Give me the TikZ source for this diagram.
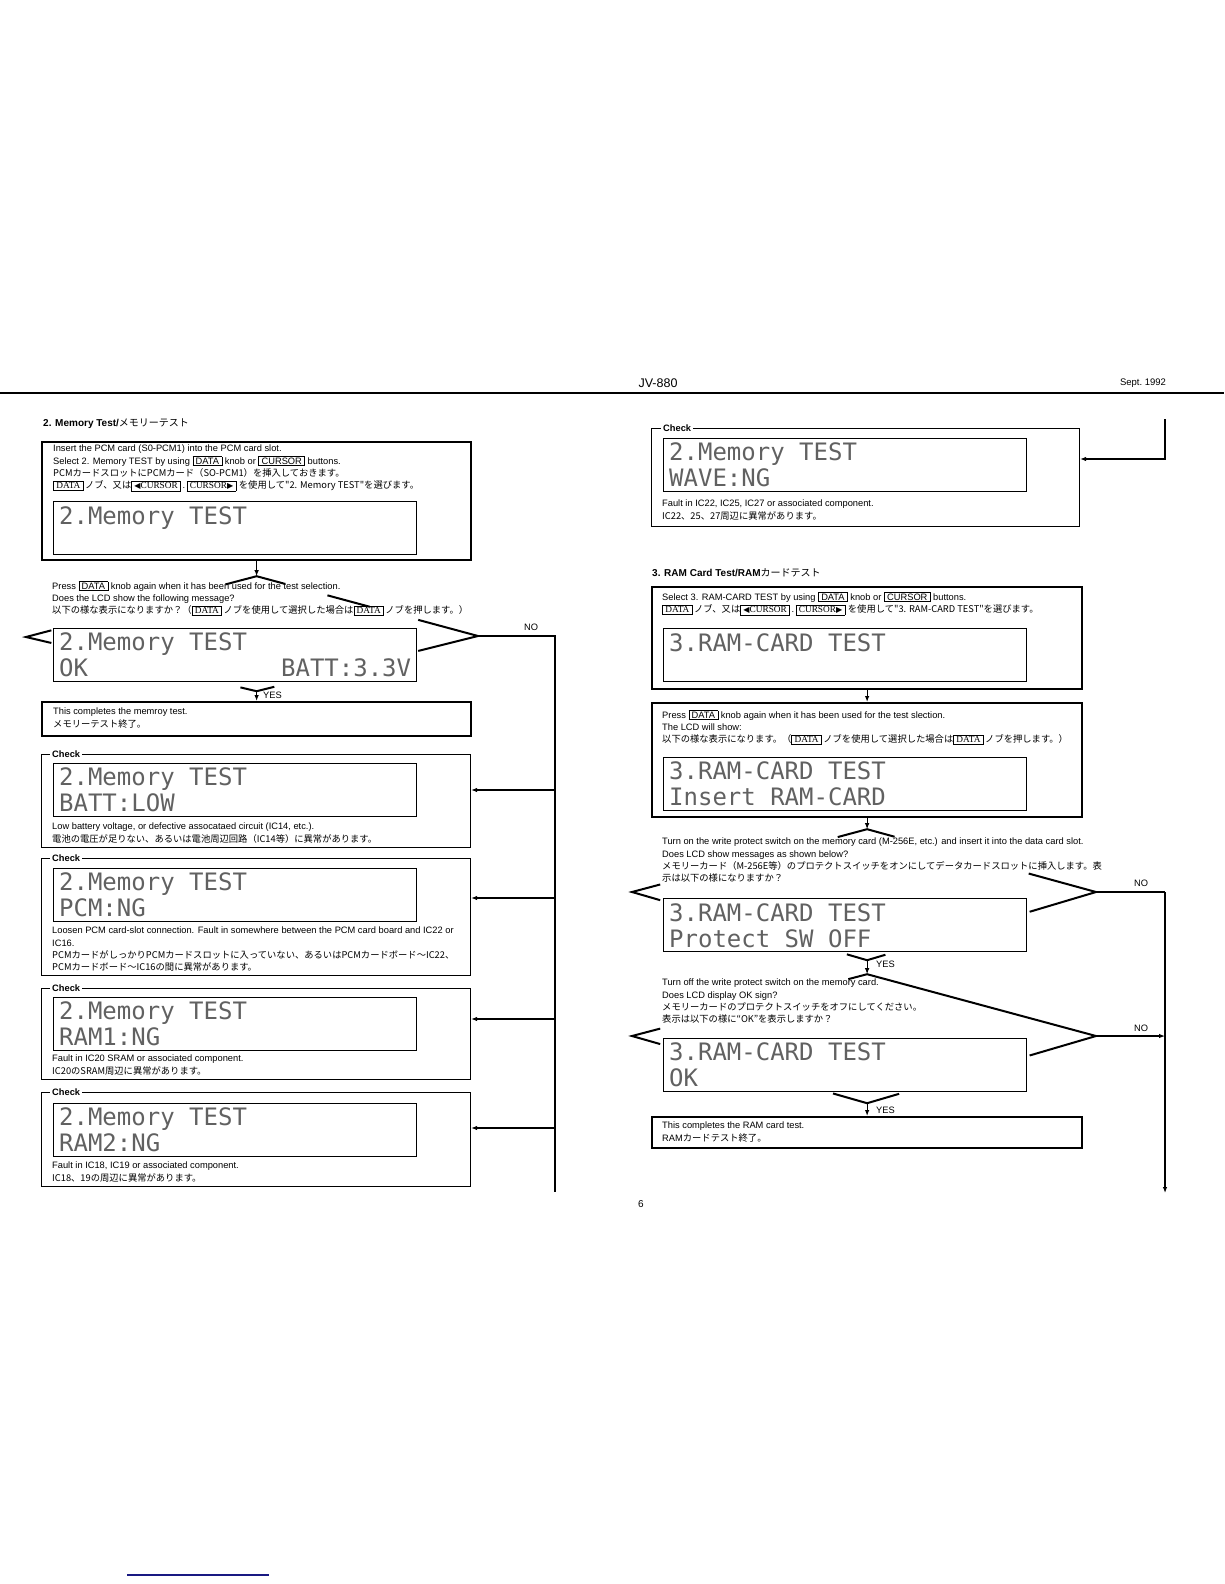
\documentclass[tikz,border=0pt]{standalone}
\usepackage{fontspec}
\setmainfont{Liberation Sans}
\newfontfamily\jpfont{Noto Sans CJK JP}
\newfontfamily\lcdfont{DejaVu Sans Mono}
\newfontfamily\symfont{DejaVu Sans}
\newfontfamily\serfont{Liberation Serif}
\usetikzlibrary{arrows.meta,calc}
\definecolor{linkblue}{RGB}{25,25,130}
\setlength{\fboxsep}{1pt}
\setlength{\fboxrule}{0.6pt}
\newcommand{\keyb}[1]{\fbox{\,#1\,}}
\newcommand{\keyj}[1]{\fbox{\serfont\,#1\,}}
\newcommand{\ltri}{{\symfont\fontsize{8}{8}\selectfont ◀}}
\newcommand{\rtri}{{\symfont\fontsize{8}{8}\selectfont ▶}}
\newcommand{\lsp}{\hspace*{0.602em}}
\tikzset{
  boxthick/.style={draw, line width=2.2pt, anchor=north west, inner sep=0pt},
  chkframe/.style={draw, line width=1.1pt, anchor=north west, inner sep=0pt},
  lcd/.style={draw, line width=1.3pt, anchor=north west, minimum width=363pt,
    minimum height=53pt, text width=352pt, inner xsep=5.5pt, inner ysep=0pt,
    align=left, font=\lcdfont\fontsize{24}{26}\selectfont, text=black!62},
  txt/.style={anchor=north west, inner sep=0pt, align=left, font=\fontsize{9.3}{12.3}\selectfont},
  chklabel/.style={anchor=west, fill=white, inner xsep=2pt, inner ysep=1pt,
    font=\bfseries\fontsize{9.3}{10}\selectfont},
  lbl/.style={anchor=west, inner sep=0pt, font=\fontsize{9.3}{10}\selectfont},
  dia/.style={line width=2pt},
  conn/.style={line width=1.1pt},
  arr/.style={conn, -{Latex[length=6pt,width=4.5pt]}}
}
\begin{document}
\begin{tikzpicture}[x=1pt,y=-1pt]
 \useasboundingbox (0,0) rectangle (1224,1584);
 % page head
 \draw[line width=1.4pt] (0,393) -- (1224,393);
 \node[font=\fontsize{12.5}{14}\selectfont] (model) at (658,383) {JV-880};
 \node[font=\fontsize{9.5}{11}\selectfont] (date) at (1143,383) {Sept.\ 1992};

 % ---- 2. memory test
 \node[anchor=west, inner sep=0pt, font=\bfseries\fontsize{10}{11}\selectfont] (titleA) at (43,424)
   {2. Memory Test/{\jpfont\mdseries メモリーテスト}};
 \node[boxthick, minimum width=429pt, minimum height=118pt] (selA) at (41,441) {};
 \node[txt] (selAtxt) at (53,445) {Insert the PCM card (S0-PCM1) into the PCM card slot.\\
   Select 2. Memory TEST by using \keyb{DATA} knob or \keyb{CURSOR} buttons.\\
   {\jpfont PCMカードスロットにPCMカード（SO-PCM1）を挿入しておきます。}\\
   \keyj{DATA}\,{\jpfont ノブ、又は}\keyj{\ltri CURSOR}\,.\,\keyj{CURSOR\rtri}\ {\jpfont を使用して"2. Memory TEST"を選びます。}};
 \node[lcd] (lcdA) at (53,501) {2.Memory\lsp TEST\\~};

 \coordinate (dAt) at ($(selA.south)+(0,15)$);
 \coordinate (dAr) at (478,636);
 \coordinate (dAb) at ($(dAt)+(0,115)$);
 \coordinate (dAl) at (26,637);
 \draw[arr] (selA.south) -- (dAt);
 \draw[dia] ($(dAt)!.135!(dAl)$) -- (dAt) -- ($(dAt)!.13!(dAr)$);
 \draw[dia] ($(dAt)!.32!(dAr)$) -- ($(dAt)!.51!(dAr)$);
 \draw[dia] ($(dAt)!.73!(dAr)$) -- (dAr) -- ($(dAr)!.27!(dAb)$);
 \draw[dia] ($(dAt)!.89!(dAl)$) -- (dAl) -- ($(dAl)!.11!(dAb)$);
 \draw[dia] ($(dAl)!.93!(dAb)$) -- (dAb) -- ($(dAr)!.92!(dAb)$);
 \node[txt] (askA) at (52,581) {Press \keyb{DATA} knob again when it has been used for the test selection.\\
   Does the LCD show the following message?\\
   {\jpfont 以下の様な表示になりますか？（}\keyj{DATA}\,{\jpfont ノブを使用して選択した場合は}\keyj{DATA}\,{\jpfont ノブを押します。）}};
 \node[lcd] (lcdB) at (53,628) {2.Memory\lsp TEST\\OK\hspace{\fill}BATT:3.3V};

 \coordinate (jA) at (555,636);
 \coordinate (endA) at (555,1192);
 \draw[conn] (dAr) -- (jA) -- (endA);
 \node[lbl] (noA) at (524,627) {NO};
 \node[lbl] (yesA) at (263,695) {YES};

 \node[boxthick, minimum width=429pt, minimum height=34pt] (doneA) at (41,701) {};
 \draw[arr] (dAb) -- (doneA.north);
 \node[txt] (doneAtxt) at (53,708) {This completes the memroy test.\\{\jpfont メモリーテスト終了。}};

 % checks
 \node[chkframe, minimum width=429pt, minimum height=93pt] (chkA1) at (41,754) {};
 \node[chklabel] (chkA1lab) at ([xshift=9pt]chkA1.north west) {Check};
 \node[lcd] (lcdA1) at (53,763) {2.Memory\lsp TEST\\BATT:LOW};
 \node[txt] (chkA1txt) at (52,823) {Low battery voltage, or defective assocataed circuit (IC14, etc.).\\
   {\jpfont 電池の電圧が足りない、あるいは電池周辺回路（IC14等）に異常があります。}};

 \node[chkframe, minimum width=429pt, minimum height=117pt] (chkA2) at (41,858) {};
 \node[chklabel] (chkA2lab) at ([xshift=9pt]chkA2.north west) {Check};
 \node[lcd] (lcdA2) at (53,868) {2.Memory\lsp TEST\\PCM:NG};
 \node[txt] (chkA2txt) at (52,927) {Loosen PCM card-slot connection. Fault in somewhere between the PCM card board and IC22 or\\
   IC16.\\
   {\jpfont PCMカードがしっかりPCMカードスロットに入っていない、あるいはPCMカードボード～IC22、}\\
   {\jpfont PCMカードボード～IC16の間に異常があります。}};

 \node[chkframe, minimum width=429pt, minimum height=91pt] (chkA3) at (41,988) {};
 \node[chklabel] (chkA3lab) at ([xshift=9pt]chkA3.north west) {Check};
 \node[lcd] (lcdA3) at (53,997) {2.Memory\lsp TEST\\RAM1:NG};
 \node[txt] (chkA3txt) at (52,1055) {Fault in IC20 SRAM or associated component.\\
   {\jpfont IC20のSRAM周辺に異常があります。}};

 \node[chkframe, minimum width=429pt, minimum height=94pt] (chkA4) at (41,1092) {};
 \node[chklabel] (chkA4lab) at ([xshift=9pt]chkA4.north west) {Check};
 \node[lcd] (lcdA4) at (53,1103) {2.Memory\lsp TEST\\RAM2:NG};
 \node[txt] (chkA4txt) at (52,1162) {Fault in IC18, IC19 or associated component.\\
   {\jpfont IC18、19の周辺に異常があります。}};

 \coordinate (jA1) at (555,790);
 \coordinate (jA2) at (555,898);
 \coordinate (jA3) at (555,1019);
 \coordinate (jA4) at (555,1128);
 \draw[arr] (jA1) -- (jA1 -| chkA1.east);
 \draw[arr] (jA2) -- (jA2 -| chkA2.east);
 \draw[arr] (jA3) -- (jA3 -| chkA3.east);
 \draw[arr] (jA4) -- (jA4 -| chkA4.east);

 % ---- right page, wave check
 \coordinate (contB) at (1165,419);
 \coordinate (jW) at (1165,459);
 \node[chkframe, minimum width=428pt, minimum height=98pt] (chkW) at (651,428) {};
 \node[chklabel] (chkWlab) at ([xshift=10pt]chkW.north west) {Check};
 \node[lcd] (lcdW) at (663,438) {2.Memory\lsp TEST\\WAVE:NG};
 \node[txt] (chkWtxt) at (662,500) {Fault in IC22, IC25, IC27 or associated component.\\
   {\jpfont IC22、25、27周辺に異常があります。}};
 \draw[arr] (contB) -- (jW) -- (jW -| chkW.east);

 % ---- 3. ram card test
 \node[anchor=west, inner sep=0pt, font=\bfseries\fontsize{10}{11}\selectfont] (titleB) at (652,573)
   {3. RAM Card Test/RAM{\jpfont\mdseries カードテスト}};
 \node[boxthick, minimum width=430pt, minimum height=102pt] (selB) at (651,586) {};
 \node[txt] (selBtxt) at (662,592) {Select 3. RAM-CARD TEST by using \keyb{DATA} knob or \keyb{CURSOR} buttons.\\
   \keyj{DATA}\,{\jpfont ノブ、又は}\keyj{\ltri CURSOR}\,.\,\keyj{CURSOR\rtri}\ {\jpfont を使用して"3. RAM-CARD TEST"を選びます。}};
 \node[lcd] (lcdS) at (663,628) {3.RAM-CARD\lsp TEST\\~};

 \node[boxthick, minimum width=430pt, minimum height=114pt] (pressB) at (651,702) {};
 \draw[arr] (selB.south) -- (pressB.north);
 \node[txt] (pressBtxt) at (662,710) {Press \keyb{DATA} knob again when it has been used for the test slection.\\
   The LCD will show:\\
   {\jpfont 以下の様な表示になります。（}\keyj{DATA}\,{\jpfont ノブを使用して選択した場合は}\keyj{DATA}\,{\jpfont ノブを押します。）}};
 \node[lcd] (lcdI) at (663,757) {3.RAM-CARD\lsp TEST\\Insert\lsp RAM-CARD};

 % protect on?
 \coordinate (dBt) at ($(pressB.south)+(0,11)$);
 \coordinate (dBr) at (1096,892);
 \coordinate (dBb) at ($(dBt)+(0,131)$);
 \coordinate (dBl) at (632,892);
 \draw[arr] (pressB.south) -- (dBt);
 \draw[dia] ($(dBt)!.125!(dBl)$) -- (dBt) -- ($(dBt)!.12!(dBr)$);
 \draw[dia] ($(dBt)!.706!(dBr)$) -- (dBr) -- ($(dBr)!.29!(dBb)$);
 \draw[dia] ($(dBt)!.88!(dBl)$) -- (dBl) -- ($(dBl)!.12!(dBb)$);
 \draw[dia] ($(dBl)!.914!(dBb)$) -- (dBb) -- ($(dBr)!.92!(dBb)$);
 \node[txt] (askB) at (662,838) {Turn on the write protect switch on the memory card (M-256E, etc.) and insert it into the data card slot.\\
   Does LCD show messages as shown below?\\
   {\jpfont メモリーカード（M-256E等）のプロテクトスイッチをオンにしてデータカードスロットに挿入します。表}\\
   {\jpfont 示は以下の様になりますか？}};
 \node[lcd] (lcdP) at (663,898) {3.RAM-CARD\lsp TEST\\\smash{Protect\lsp SW\lsp OFF}};

 \coordinate (jB) at (1165,892);
 \coordinate (endB) at (1165,1193);
 \draw[conn] (dBr) -- (jB);
 \draw[arr] (jB) -- (endB);
 \node[lbl] (noB) at (1134,883) {NO};
 \node[lbl] (yesB) at (876,964) {YES};

 % protect off, ok?
 \coordinate (dCt) at ($(dBb)+(0,14)$);
 \coordinate (dCr) at (1096,1036);
 \coordinate (dCb) at ($(dCt)+(0,129)$);
 \coordinate (dCl) at (632,1036);
 \draw[arr] (dBb) -- (dCt);
 \draw[dia] ($(dCt)!.08!(dCl)$) -- (dCt) -- (dCr) -- ($(dCr)!.29!(dCb)$);
 \draw[dia] ($(dCt)!.88!(dCl)$) -- (dCl) -- ($(dCl)!.12!(dCb)$);
 \draw[dia] ($(dCl)!.855!(dCb)$) -- (dCb) -- ($(dCr)!.86!(dCb)$);
 \node[txt] (askC) at (662,979) {Turn off the write protect switch on the memory card.\\
   Does LCD display OK sign?\\
   {\jpfont メモリーカードのプロテクトスイッチをオフにしてください。}\\
   {\jpfont 表示は以下の様に“OK”を表示しますか？}};
 \node[lcd] (lcdK) at (663,1038) {3.RAM-CARD\lsp TEST\\OK};
 \draw[arr] (dCr) -- (dCr -| jB);
 \node[lbl] (noC) at (1134,1028) {NO};
 \node[lbl] (yesC) at (876,1110) {YES};

 \node[boxthick, minimum width=430pt, minimum height=31pt] (doneB) at (651,1116) {};
 \draw[arr] (dCb) -- (doneB.north);
 \node[txt] (doneBtxt) at (662,1122) {This completes the RAM card test.\\RAM{\jpfont カードテスト終了。}};

 \node (pnum) at (641,1204) {6};
 \draw[linkblue, line width=1.2pt] (127,1575) -- (269,1575);
\end{tikzpicture}
\end{document}
